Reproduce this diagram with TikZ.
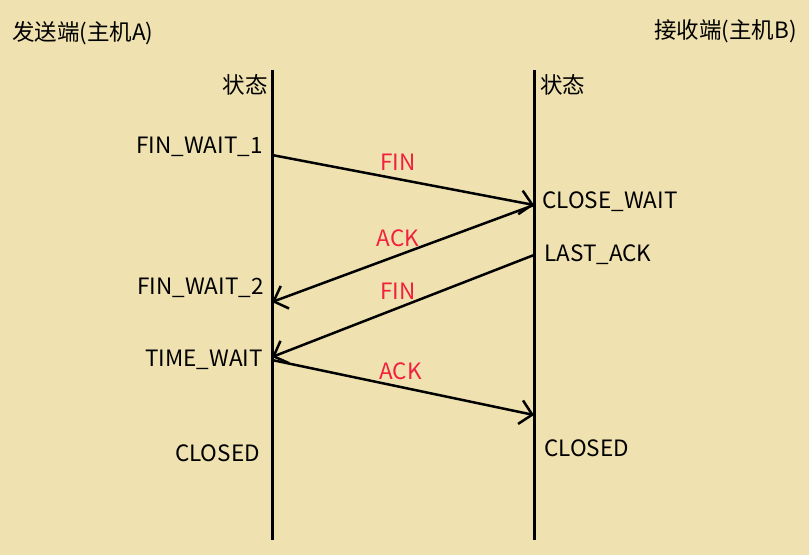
\documentclass[tikz,border=0pt]{standalone}
\usepackage{fontspec}
\setmainfont{Noto Sans CJK SC}
\usepackage{tikz}
\usetikzlibrary{arrows.meta,positioning,calc}
\usepackage{xcolor}
\definecolor{paper}{HTML}{EFE2B0}
\definecolor{msgred}{HTML}{F2203C}
\tikzset{
  lifeline/.style={draw=black,line width=3pt},
  msg/.style={-{Straight Barb[length=12pt,width=24pt,line width=2.5pt]},draw=black,line width=2.5pt},
  statelbl/.style={font=\fontsize{22.5}{26}\selectfont,inner sep=0pt},
  hostlbl/.style={font=\fontsize{22.5}{26}\selectfont,inner sep=0pt},
  msglbl/.style={font=\fontsize{22.5}{26}\selectfont,text=msgred,inner sep=0pt}
}

\begin{document}
\begin{tikzpicture}[x=1pt,y=-1pt]
  \fill[paper] (0,0) rectangle (809,555);
  \useasboundingbox (0,0) rectangle (809,555);
  % lifelines
  \coordinate (atop) at (272,70);
  \coordinate (abot) at (272,540);
  \coordinate (btop) at (534,70);
  \coordinate (bbot) at (534,540);
  \draw[lifeline] (atop) -- (abot);
  \draw[lifeline] (btop) -- (bbot);
  % hosts
  \node[hostlbl,anchor=west] (hosta) at (12,33) {发送端(主机A)};
  \node[hostlbl,anchor=east] (hostb) at (797,31) {接收端(主机B)};
  \node[statelbl,anchor=east] (sta) at (268,85) {状态};
  \node[statelbl,anchor=west] (stb) at (540,85) {状态};
  % states of A
  \node[statelbl,anchor=east] (fw1) at (263,147) {FIN\_WAIT\_1};
  \node[statelbl,anchor=east] (fw2) at (264,288) {FIN\_WAIT\_2};
  \node[statelbl,anchor=east] (tw) at (263,360) {TIME\_WAIT};
  \node[statelbl,anchor=east] (cla) at (260,453) {CLOSED};
  % states of B
  \node[statelbl,anchor=west] (cw) at (542,202) {CLOSE\_WAIT};
  \node[statelbl,anchor=west] (la) at (544,255) {LAST\_ACK};
  \node[statelbl,anchor=west] (clb) at (544,448) {CLOSED};
  % message points
  \coordinate (a1) at (272,155);
  \coordinate (b1) at (534,205);
  \coordinate (a2) at (272,302);
  \coordinate (b2) at (534,255);
  \coordinate (a3) at (272,357);
  \coordinate (a4) at (272,360);
  \coordinate (b3) at (534,415);
  \draw[msg] (a1) -- node[msglbl,pos=0.48,yshift=17pt] (fin1) {FIN} (b1);
  \draw[msg] (b1) -- node[msglbl,pos=0.52,yshift=17pt] (ack1) {ACK} (a2);
  \draw[msg] (b2) -- node[msglbl,pos=0.52,yshift=17pt] (fin2) {FIN} (a3);
  \draw[msg] (a4) -- node[msglbl,pos=0.49,yshift=16pt] (ack2) {ACK} (b3);
\end{tikzpicture}
\end{document}
